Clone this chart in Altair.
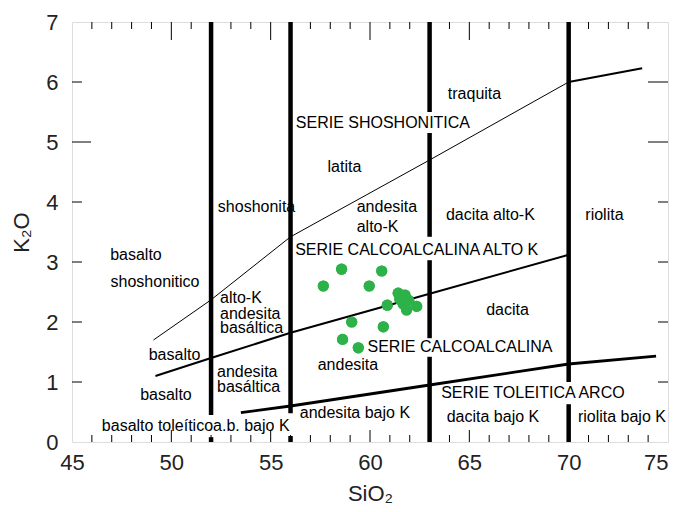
import altair as alt
import pandas as pd

# ---- data ----
sio2 = [58.57, 60.59, 57.65, 59.96, 61.42, 61.76, 61.50, 61.67, 61.84, 62.35, 61.95, 60.87, 59.08, 60.67, 58.62, 59.41]
k2o = [2.88, 2.85, 2.60, 2.60, 2.48, 2.45, 2.38, 2.30, 2.20, 2.26, 2.36, 2.28, 2.00, 1.92, 1.71, 1.57]

# boundary lines
shosh_x = [49.1, 52.0, 56.0, 63.0, 70.0]
shosh_y = [1.70, 2.37, 3.42, 4.70, 6.00]
shosh_end_x = [70.0, 73.7]
shosh_end_y = [6.00, 6.23]
highk_x = [49.2, 52.0, 56.0, 63.0, 70.0]
highk_y = [1.10, 1.40, 1.82, 2.47, 3.12]
lowk_x = [53.5, 56.0, 63.0, 70.0, 74.4]
lowk_y = [0.49, 0.60, 0.95, 1.30, 1.43]

# vertical dividers (x, from, to) with gaps under labels
vert_x = [52, 52, 56, 56, 63, 63, 63, 63, 70, 70]
vert_y1 = [0.0, 0.45, 0.0, 0.48, 0.0, 1.73, 3.42, 5.50, 0.0, 1.00]
vert_y2 = [0.08, 7.0, 0.10, 7.0, 1.42, 3.03, 5.15, 7.0, 0.63, 7.0]

# labels
lab_c_text = ["traquita", "SERIE SHOSHONITICA", "latita", "dacita alto-K", "riolita",
              "shoshonita", "SERIE CALCOALCALINA ALTO K", "basalto", "shoshonitico",
              "basalto", "basalto", "andesita", "andesita bajo K", "SERIE CALCOALCALINA",
              "dacita", "SERIE TOLEITICA ARCO", "dacita bajo K", "riolita bajo K"]
lab_c_x = [65.26, 60.65, 58.71, 66.06, 71.80, 54.29, 62.35, 48.22, 49.18,
           50.16, 49.73, 58.89, 59.24, 64.53, 66.92, 68.20, 66.19, 72.68]
lab_c_y = [5.80, 5.32, 4.59, 3.78, 3.78, 3.92, 3.20, 3.12, 2.67,
           1.45, 0.78, 1.28, 0.48, 1.59, 2.20, 0.82, 0.42, 0.42]

lab_l_text = ["andesita", "alto-K", "alto-K", "andesita", "basáltica", "andesita", "basáltica", "a.b. bajo K"]
lab_l_x = [59.33, 59.33, 52.45, 52.45, 52.45, 52.30, 52.30, 52.10]
lab_l_y = [3.92, 3.58, 2.40, 2.14, 1.90, 1.16, 0.91, 0.27]

lab_r_text = ["basalto toleítico"]
lab_r_x = [52.10]
lab_r_y = [0.27]

x_minor = [v for v in range(46, 75) if v % 5 != 0]
x_major = [50, 55, 60, 65, 70]
y_minor = [1, 2, 3, 4, 6]
y_major = [5]
y_minor_r = [1, 2, 3, 4]
y_major_r = [5, 6]

FONT = "Liberation Sans"

xs = alt.Scale(domain=[45, 75], nice=False, zero=False)
ys = alt.Scale(domain=[0, 7], nice=False, zero=False)

X = alt.X("x:Q", scale=xs, title="SiO₂",
          axis=alt.Axis(values=[45, 50, 55, 60, 65, 70, 75], format="d", ticks=False, domain=False, grid=False,
                        labelFontSize=22, labelFont=FONT, labelColor="#222", labelPadding=10,
                        labelAlign={"condition": {"test": "datum.value == 75", "value": "right"}, "value": "center"},
                        labelBound=False, labelOverlap=False, labelFlush=False,
                        titleFontSize=22, titleFont=FONT, titleFontWeight="normal", titleColor="#222",
                        titlePadding=10))
Y = alt.Y("y:Q", scale=ys, title="K₂O",
          axis=alt.Axis(values=[0, 1, 2, 3, 4, 5, 6, 7], format="d", ticks=False, domain=False, grid=False,
                        labelFontSize=22, labelFont=FONT, labelColor="#222", labelPadding=14,
                        labelBound=False, labelOverlap=False, labelFlush=False,
                        titleFontSize=22, titleFont=FONT, titleFontWeight="normal", titleColor="#222",
                        titlePadding=12))


def line_df(xv, yv):
    return pd.DataFrame({"x": xv, "y": yv, "o": list(range(len(xv)))})


def line_layer(xv, yv, w):
    return alt.Chart(line_df(xv, yv)).mark_line(color="black", strokeWidth=w).encode(
        x="x:Q", y="y:Q", order="o:Q")


base_pts = alt.Chart(pd.DataFrame({"x": sio2, "y": k2o})).mark_circle(
    size=125, color="#2db24a", opacity=1).encode(x=X, y=Y)

vert = alt.Chart(pd.DataFrame({"x": vert_x, "y": vert_y1, "y2": vert_y2})).mark_rule(
    color="black", strokeWidth=4.5).encode(x="x:Q", y="y:Q", y2="y2:Q")


def text_layer(t, xv, yv, align):
    return alt.Chart(pd.DataFrame({"t": t, "x": xv, "y": yv})).mark_text(
        font=FONT, fontSize=16, color="black", align=align, baseline="middle").encode(
        x="x:Q", y="y:Q", text="t:N")


def xticks(vals, ypos, length):
    # inward tick: from the frame edge, length in pixels (negative = upward)
    return alt.Chart(pd.DataFrame({"x": vals})).mark_rule(
        color="black", strokeWidth=1, y2Offset=length).encode(
        x="x:Q", y=alt.datum(ypos), y2=alt.datum(ypos))


def yticks(vals, xpos, length):
    return alt.Chart(pd.DataFrame({"y": vals})).mark_rule(
        color="black", strokeWidth=1, x2Offset=length).encode(
        y="y:Q", x=alt.datum(xpos), x2=alt.datum(xpos))


chart = alt.layer(
    base_pts,
    xticks(x_minor, 0, -7), xticks(x_major, 0, -12),
    xticks(x_minor, 7, 7), xticks(x_major, 7, 18),
    yticks(y_minor, 45, 10), yticks(y_major, 45, 19),
    yticks(y_minor_r, 75, -10), yticks(y_major_r, 75, -20),
    line_layer(shosh_x, shosh_y, 1),
    line_layer(shosh_end_x, shosh_end_y, 2),
    line_layer(highk_x, highk_y, 2),
    line_layer(lowk_x, lowk_y, 2.8),
    vert,
    text_layer(lab_c_text, lab_c_x, lab_c_y, "center"),
    text_layer(lab_l_text, lab_l_x, lab_l_y, "left"),
    text_layer(lab_r_text, lab_r_x, lab_r_y, "right"),
    base_pts,
).properties(
    width=596, height=420,
    padding={"left": 64, "top": 14, "right": 3, "bottom": 62},
    autosize=alt.AutoSizeParams(type="none"),
).configure_view(stroke="black", strokeWidth=1).configure(background="white")

chart.save("out.html", embed_options={"renderer": "svg", "actions": False})
